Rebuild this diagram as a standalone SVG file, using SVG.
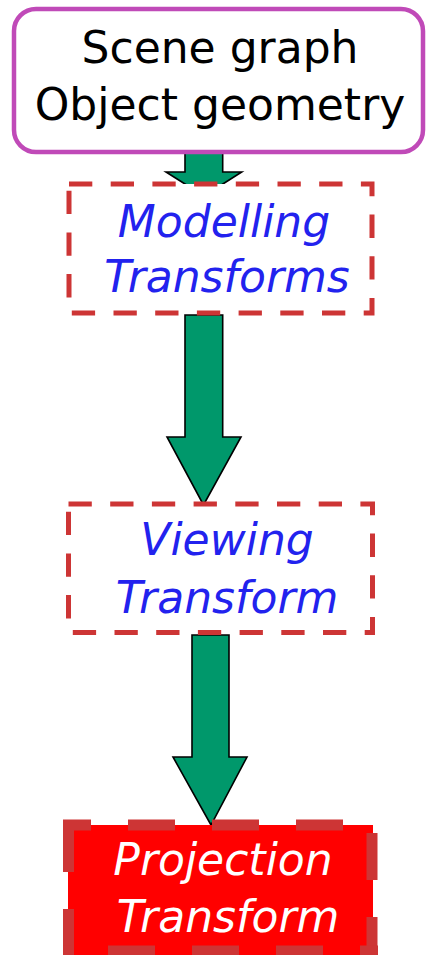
<svg xmlns="http://www.w3.org/2000/svg" width="428" height="955" viewBox="0 0 428 955">
  <style>
    .label { font-family: "DejaVu Sans", "Liberation Sans", sans-serif; font-size: 44px; text-anchor: middle; }
    .black { fill: #000000; }
    .blue { fill: #2222ee; font-style: italic; }
    .white { fill: #ffffff; font-style: italic; }
    .arrow { fill: #00986b; stroke: #000000; stroke-width: 1.6; stroke-linejoin: miter; }
    .dashbox { fill: #ffffff; stroke: #cd3535; stroke-width: 5; stroke-dasharray: 23.3 18.4; }
    .bigdash { stroke: #cd3535; stroke-width: 11; stroke-dasharray: 47 37; fill: none; }
  </style>

  <rect width="428" height="955" fill="#ffffff"/>

  <!-- block arrows between stages -->
  <g id="connectors">
    <polygon class="arrow" points="185,150 222.7,150 222.7,172 241.7,172 204,196 166,172 185,172"/>
    <polygon class="arrow" points="185,315 222.7,315 222.7,437 241,437 203.5,505 167,437 185,437"/>
    <polygon class="arrow" points="192,635 229,635 229,757 247,757 211,825 173,757 192,757"/>
  </g>

  <!-- source stage -->
  <g id="scene-graph">
    <rect x="14" y="9" width="409" height="143" rx="22" ry="22" fill="#ffffff" stroke="#c04ab8" stroke-width="4.5"/>
    <text class="label black" x="220" y="63">Scene graph</text>
    <text class="label black" x="220" y="120">Object geometry</text>
  </g>

  <g id="modelling">
    <rect class="dashbox" x="69" y="184" width="303" height="129"/>
    <text class="label blue" x="224" y="237">Modelling</text>
    <text class="label blue" x="227" y="292">Transforms</text>
  </g>

  <g id="viewing">
    <rect class="dashbox" x="68.5" y="504" width="304" height="128.5"/>
    <text class="label blue" x="227" y="555">Viewing</text>
    <text class="label blue" x="227" y="613">Transform</text>
  </g>

  <g id="projection">
    <rect x="68" y="825" width="305" height="130" fill="#ff0000"/>
    <line class="bigdash" x1="63" y1="825" x2="378" y2="825" stroke-dashoffset="19"/>
    <line class="bigdash" x1="372" y1="820" x2="372" y2="955" stroke-dashoffset="71"/>
    <line class="bigdash" x1="68.5" y1="820" x2="68.5" y2="955" stroke-dashoffset="79"/>
    <line class="bigdash" x1="63" y1="951" x2="378" y2="951" stroke-dashoffset="39"/>
    <text class="label white" x="223" y="875">Projection</text>
    <text class="label white" x="228" y="932">Transform</text>
  </g>
</svg>
